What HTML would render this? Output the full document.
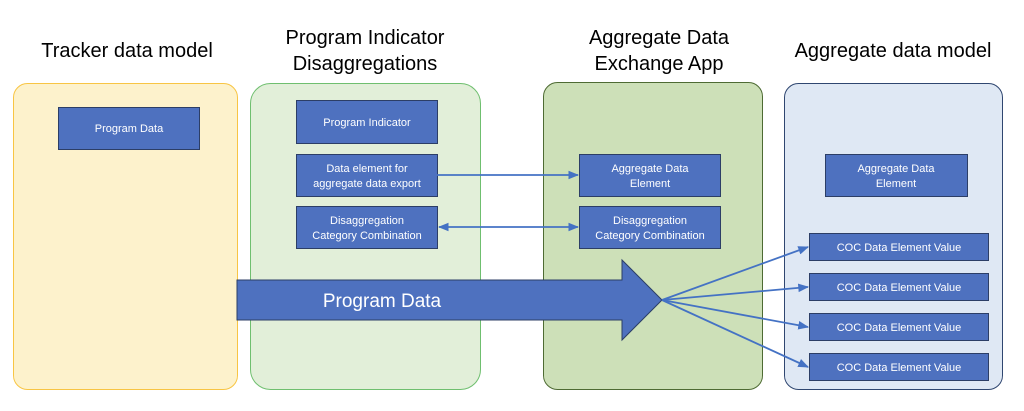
<!DOCTYPE html>
<html><head><meta charset="utf-8"><style>
body{margin:0;background:#fff;}
svg{display:block;font-family:"Liberation Sans",sans-serif;}
</style></head><body>
<svg width="1024" height="411" viewBox="0 0 1024 411" xmlns="http://www.w3.org/2000/svg">
<defs>
<marker id="ah" viewBox="0 0 10 10" refX="9" refY="5" markerWidth="6" markerHeight="6" orient="auto-start-reverse"><path d="M0,1 L10,5 L0,9 z" fill="#4472c4"/></marker>
</defs>
<g font-size="20" fill="#000" text-anchor="middle">
<text x="127" y="57">Tracker data model</text>
<text x="365" y="44">Program Indicator</text>
<text x="365" y="70">Disaggregations</text>
<text x="659" y="44">Aggregate Data</text>
<text x="659" y="70">Exchange App</text>
<text x="893" y="57">Aggregate data model</text>
</g>
<rect x="13.5" y="83.5" width="224" height="306" rx="14" fill="#fdf2cc" stroke="#f8c544" stroke-width="1"/>
<rect x="250.5" y="83.5" width="230" height="306" rx="20" fill="#e2efd9" stroke="#6fbf6f" stroke-width="1"/>
<rect x="543.5" y="82.5" width="219" height="307" rx="14" fill="#cde0b8" stroke="#4e6b33" stroke-width="1"/>
<rect x="784.5" y="83.5" width="218" height="306" rx="14" fill="#dfe8f4" stroke="#2f4670" stroke-width="1"/>
<g fill="#4e71bf" stroke="#2c3e66" stroke-width="1">
<rect x="58.5" y="107.5" width="141" height="42"/>
<rect x="296.5" y="100.5" width="141" height="43"/>
<rect x="296.5" y="154.5" width="141" height="42"/>
<rect x="296.5" y="206.5" width="141" height="42"/>
<rect x="579.5" y="154.5" width="141" height="42"/>
<rect x="579.5" y="206.5" width="141" height="42"/>
<rect x="825.5" y="154.5" width="142" height="42"/>
<rect x="809.5" y="233.5" width="179" height="27"/>
<rect x="809.5" y="273.5" width="179" height="27"/>
<rect x="809.5" y="313.5" width="179" height="27"/>
<rect x="809.5" y="353.5" width="179" height="27"/>
</g>
<polygon points="237,280 622,280 622,260 662,300 622,340 622,320 237,320" fill="#4e71bf" stroke="#2c3e66" stroke-width="1"/>
<text x="382" y="307" font-size="19" fill="#fff" text-anchor="middle">Program Data</text>
<g stroke="#4472c4" stroke-width="1.8" fill="none">
<line x1="437" y1="175" x2="578" y2="175" marker-end="url(#ah)"/>
<line x1="439" y1="227" x2="578" y2="227" marker-start="url(#ah)" marker-end="url(#ah)"/>
<line x1="662" y1="300" x2="808" y2="247" marker-end="url(#ah)"/>
<line x1="662" y1="300" x2="808" y2="287" marker-end="url(#ah)"/>
<line x1="662" y1="300" x2="808" y2="327" marker-end="url(#ah)"/>
<line x1="662" y1="300" x2="808" y2="367" marker-end="url(#ah)"/>
</g>
<g font-size="11" fill="#fff" text-anchor="middle">
<text x="129" y="132">Program Data</text>
<text x="367" y="126">Program Indicator</text>
<text x="367" y="172">Data element for</text>
<text x="367" y="187">aggregate data export</text>
<text x="367" y="224">Disaggregation</text>
<text x="367" y="239">Category Combination</text>
<text x="650" y="172">Aggregate Data</text>
<text x="650" y="187">Element</text>
<text x="650" y="224">Disaggregation</text>
<text x="650" y="239">Category Combination</text>
<text x="896" y="172">Aggregate Data</text>
<text x="896" y="187">Element</text>
<text x="899" y="251">COC Data Element Value</text>
<text x="899" y="291">COC Data Element Value</text>
<text x="899" y="331">COC Data Element Value</text>
<text x="899" y="371">COC Data Element Value</text>
</g>
</svg>
</body></html>
